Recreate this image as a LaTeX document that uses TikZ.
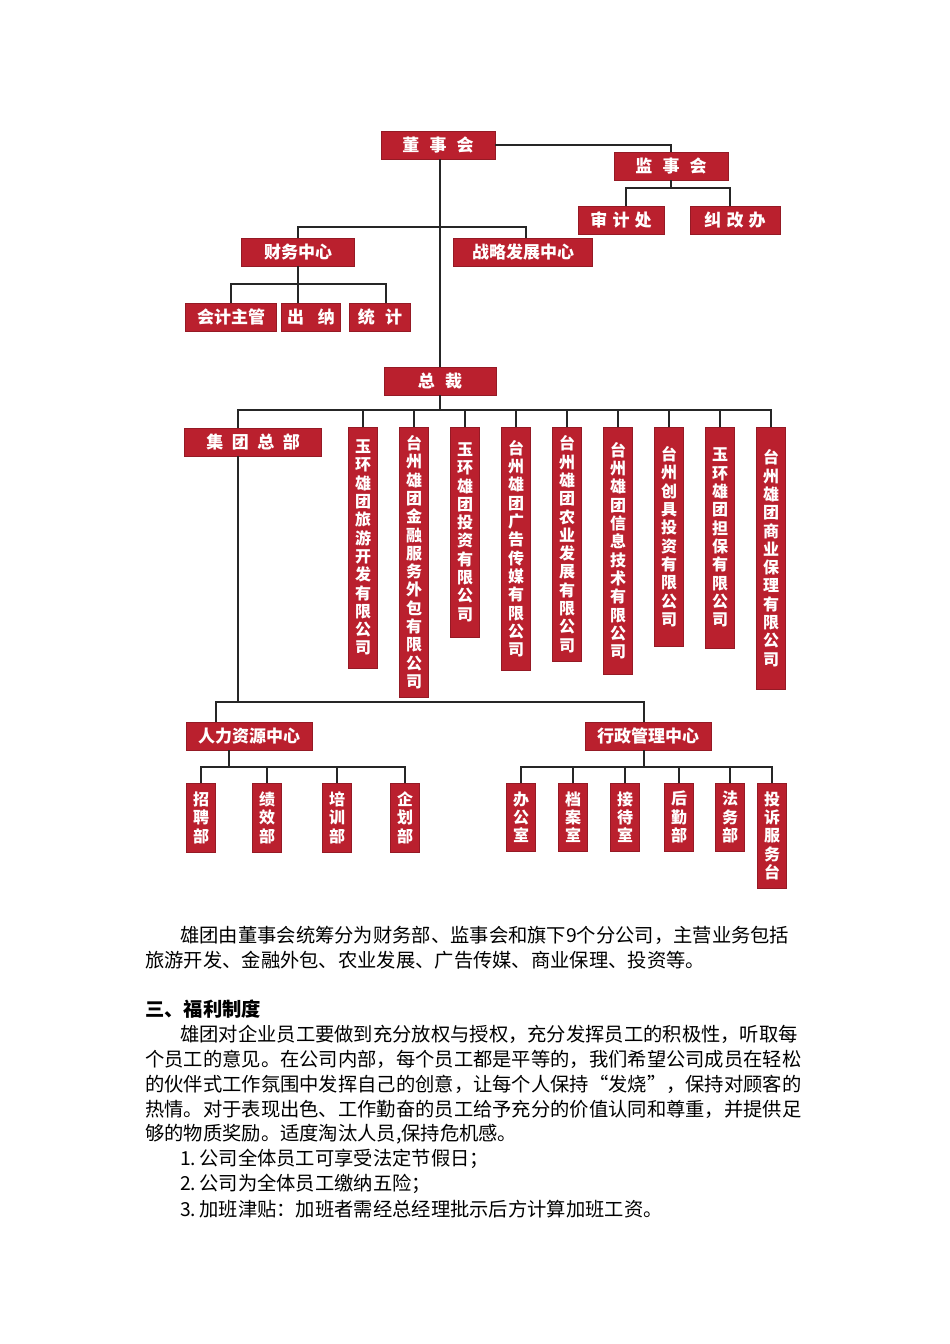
\documentclass[tikz,border=0pt]{standalone}
\usepackage{fontspec}
\setmainfont{Noto Sans CJK SC}
\newfontfamily\cjk{Noto Sans CJK SC}
\definecolor{boxred}{RGB}{186,32,46}
\begin{document}
\begin{tikzpicture}[x=1pt,y=-1pt,
  hb/.style={draw=boxred!80!black,fill=boxred,text=white,font=\cjk\bfseries\fontsize{17}{17}\selectfont,inner sep=0pt,minimum height=28,anchor=center},
  vb/.style={draw=boxred!80!black,fill=boxred,text=white,font=\cjk\bfseries\fontsize{16}{18.3}\selectfont,inner sep=0pt,minimum width=29,anchor=north,align=center},
  ln/.style={line width=2.2pt,black!85},
  tx/.style={anchor=west,inner sep=0pt,font=\cjk\fontsize{19.3}{19.3}\selectfont}]
\useasboundingbox (0,0) rectangle (950,1344);
% top
\node[hb,minimum width=114] (dsh) at (438,145) {董\hspace{0.6em}事\hspace{0.6em}会};
\node[hb,minimum width=114] (jsh) at (671,166) {监\hspace{0.6em}事\hspace{0.6em}会};
\node[hb,minimum width=86] (sjc) at (621,220) {审\hspace{0.3em}计\hspace{0.3em}处};
\node[hb,minimum width=90] (jgb) at (735,220) {纠\hspace{0.3em}改\hspace{0.3em}办};
\node[hb,minimum width=113] (cw) at (298,252) {财务中心};
\node[hb,minimum width=139] (zl) at (523,252) {战略发展中心};
\node[hb,minimum width=91] (kj) at (231,317) {会计主管};
\node[hb,minimum width=59] (cn) at (311,317) {出\hspace{0.8em}纳};
\node[hb,minimum width=61] (tj) at (380,317) {统\hspace{0.6em}计};
\node[hb,minimum width=112] (zc) at (440,381) {总\hspace{0.6em}裁};
\draw[ln] (dsh.east) -| (jsh.north);
\coordinate (j2) at (671,188);
\draw[ln] (jsh.south) -- (j2);
\draw[ln] (sjc.north -| 626,0) |- (j2) -| (jgb.north -| 730,0);
\draw[ln] (dsh.south -| 440,0) -- (zc.north -| 440,0);
\coordinate (j1) at (440,227);
\draw[ln] (cw.north) |- (j1) -| (zl.north -| 526,0);
\coordinate (j3) at (298,284);
\draw[ln] (cw.south) -- (j3);
\draw[ln] (kj.north) |- (j3) -| (tj.north -| 386,0);
\draw[ln] (j3) -- (cn.north -| 298,0);
% level 2
\coordinate (j4) at (440,410);
\draw[ln] (zc.south -| 440,0) -- (j4);
\node[hb,minimum width=137] (jt) at (253,442) {集\hspace{0.5em}团\hspace{0.5em}总\hspace{0.5em}部};
\node[vb,minimum height=241] (c1) at (363,427) {玉\\环\\雄\\团\\旅\\游\\开\\发\\有\\限\\公\\司};
\node[vb,minimum height=270] (c2) at (414,427) {台\\州\\雄\\团\\金\\融\\服\\务\\外\\包\\有\\限\\公\\司};
\node[vb,minimum height=210] (c3) at (465,427) {玉\\环\\雄\\团\\投\\资\\有\\限\\公\\司};
\node[vb,minimum height=243] (c4) at (516,427) {台\\州\\雄\\团\\广\\告\\传\\媒\\有\\限\\公\\司};
\node[vb,minimum height=234] (c5) at (567,427) {台\\州\\雄\\团\\农\\业\\发\\展\\有\\限\\公\\司};
\node[vb,minimum height=247] (c6) at (618,427) {台\\州\\雄\\团\\信\\息\\技\\术\\有\\限\\公\\司};
\node[vb,minimum height=219] (c7) at (669,427) {台\\州\\创\\具\\投\\资\\有\\限\\公\\司};
\node[vb,minimum height=221] (c8) at (720,427) {玉\\环\\雄\\团\\担\\保\\有\\限\\公\\司};
\node[vb,minimum height=262] (c9) at (771,427) {台\\州\\雄\\团\\商\\业\\保\\理\\有\\限\\公\\司};
\draw[ln] (jt.north -| 238,0) |- (j4) -| (c9.north);
\foreach \c in {c1,c2,c3,c4,c5,c6,c7,c8} \draw[ln] (\c.north) -- (\c.north |- j4);
% level 3
\coordinate (j5) at (238,702);
\draw[ln] (jt.south -| 238,0) -- (j5);
\node[hb,minimum width=126] (hr) at (249,736) {人力资源中心};
\node[hb,minimum width=126] (xz) at (648,736) {行政管理中心};
\draw[ln] (hr.north -| 216,0) |- (j5) -| (xz.north -| 644,0);
\node[vb,minimum height=69] (h1) at (201,783) {招\\聘\\部};
\node[vb,minimum height=69] (h2) at (267,783) {绩\\效\\部};
\node[vb,minimum height=69] (h3) at (337,783) {培\\训\\部};
\node[vb,minimum height=69] (h4) at (405,783) {企\\划\\部};
\coordinate (j6) at (229,767);
\draw[ln] (hr.south -| 229,0) -- (j6);
\draw[ln] (h1.north) |- (j6) -| (h4.north);
\foreach \c in {h2,h3} \draw[ln] (\c.north) -- (\c.north |- j6);
\node[vb,minimum height=68] (a1) at (521,783) {办\\公\\室};
\node[vb,minimum height=68] (a2) at (573,783) {档\\案\\室};
\node[vb,minimum height=68] (a3) at (625,783) {接\\待\\室};
\node[vb,minimum height=68] (a4) at (679,783) {后\\勤\\部};
\node[vb,minimum height=68] (a5) at (730,783) {法\\务\\部};
\node[vb,minimum height=105] (a6) at (772,783) {投\\诉\\服\\务\\台};
\coordinate (j7) at (644,767);
\draw[ln] (xz.south -| 644,0) -- (j7);
\draw[ln] (a1.north) |- (j7) -| (a6.north);
\foreach \c in {a2,a3,a4,a5} \draw[ln] (\c.north) -- (\c.north |- j7);
% text
\node[tx] (t1) at (180,935) {雄团由董事会统筹分为财务部、监事会和旗下9个分公司，主营业务包括};
\node[tx] (t2) at (145,960) {旅游开发、金融外包、农业发展、广告传媒、商业保理、投资等。};
\node[tx,font=\cjk\bfseries\fontsize{19.3}{19.3}\selectfont] (t3) at (145,1009) {三、福利制度};
\node[tx] (t4) at (180,1034) {雄团对企业员工要做到充分放权与授权，充分发挥员工的积极性，听取每};
\node[tx] (t5) at (145,1059) {个员工的意见。在公司内部，每个员工都是平等的，我们希望公司成员在轻松};
\node[tx] (t6) at (145,1084) {的伙伴式工作氛围中发挥自己的创意，让每个人保持“发烧”，保持对顾客的};
\node[tx] (t7) at (145,1109) {热情。对于表现出色、工作勤奋的员工给予充分的价值认同和尊重，并提供足};
\node[tx] (t8) at (145,1134) {够的物质奖励。适度淘汰人员,保持危机感。};
\node[tx] (t9) at (180,1159) {1.\,公司全体员工可享受法定节假日；};
\node[tx] (t10) at (180,1184) {2.\,公司为全体员工缴纳五险；};
\node[tx] (t11) at (180,1209) {3.\,加班津贴：加班者需经总经理批示后方计算加班工资。};
\end{tikzpicture}
\end{document}
